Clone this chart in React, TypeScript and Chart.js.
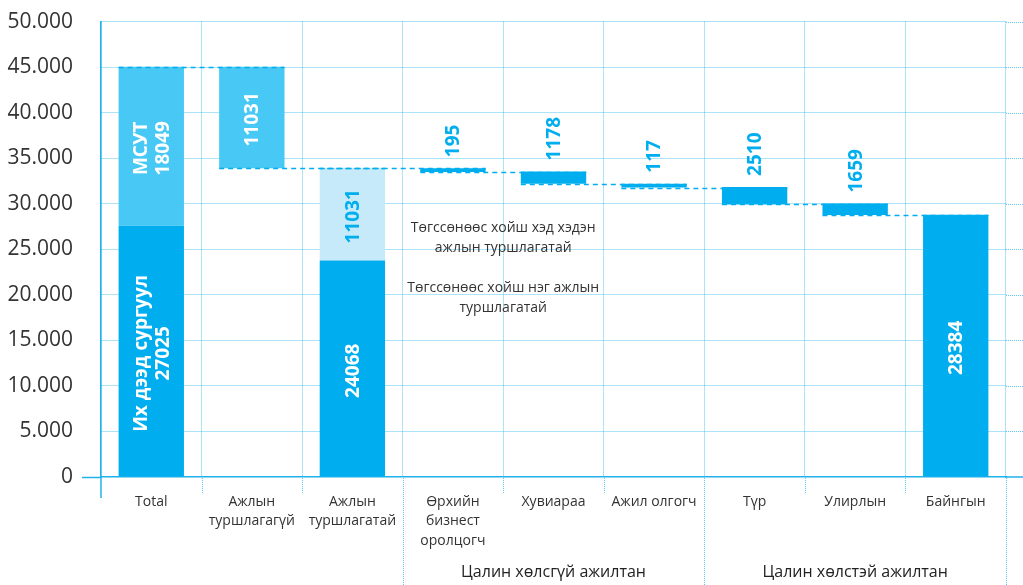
import React, { useEffect, useRef } from 'react';
import { Chart, registerables } from 'chart.js';

Chart.register(...registerables);

// ---------- data ----------
const categories: (string | string[])[] = [
  'Total',
  ['Ажлын', 'туршлагагүй'],
  ['Ажлын', 'туршлагатай'],
  ['Өрхийн', 'бизнест', 'оролцогч'],
  'Хувиараа',
  'Ажил олгогч',
  'Түр',
  'Улирлын',
  'Байнгын',
];

type Range = [number, number] | null;

// floating bar ranges [from, to]
const darkRanges: Range[] = [
  [0, 27576],
  null,
  [0, 23772],
  [33480, 33910],
  [32207, 33554],
  [31772, 32207],
  [29913, 31848],
  [28760, 30020],
  [0, 28800],
];
const midRanges: Range[] = [[27576, 45050], [33910, 45050], null, null, null, null, null, null, null];
const lightRanges: Range[] = [null, null, [23772, 33930], null, null, null, null, null, null];

const darkLabels: (string[] | null)[] = [
  ['Их дээд сургуул', '27025'],
  null,
  ['24068'],
  ['195'],
  ['1178'],
  ['117'],
  ['2510'],
  ['1659'],
  ['28384'],
];
const midLabels: (string[] | null)[] = [['МСУТ', '18049'], ['11031'], null, null, null, null, null, null, null];
const lightLabels: (string[] | null)[] = [null, null, ['11031'], null, null, null, null, null, null];

// dashed connector levels between bar i and bar i+1
const connectorLevels = [45050, 33910, 33910, 33480, 32207, 31772, 29930, 28780];

const yTicks = [0, 5000, 10000, 15000, 20000, 25000, 30000, 35000, 40000, 45000, 50000];

const groupNames = ['Цалин хөлсгүй ажилтан', 'Цалин хөлстэй ажилтан'];
const groupSpans = [
  [3, 5],
  [6, 8],
];

const noteLines = [
  ['Төгссөнөөс хойш хэд хэдэн', 'ажлын туршлагатай'],
  ['Төгссөнөөс хойш нэг ажлын', 'туршлагатай'],
];
const noteAnchors = [
  { x: 3.5, y: 26230 },
  { x: 3.5, y: 19640 },
];

// ---------- style ----------
const DARK = '#00aeef';
const MID = '#47c8f5';
const LIGHT = '#c6eaf9';
const GRID = 'rgba(0, 170, 235, 0.65)';
const AXIS = '#1fb1ec';
const TEXT = '#333333';
const FONT = '"Open Sans", "Noto Sans", sans-serif';
const BAR_PCT = 0.65;

const fmt = (v: number) => {
  const s = Math.round(v).toString();
  return s.replace(/\B(?=(\d{3})+(?!\d))/g, '.');
};

const overlayPlugin = {
  id: 'overlay',
  afterDatasetsDraw(chart: any) {
    const { ctx } = chart;
    const x = chart.scales.x;
    const y = chart.scales.y;
    const step = x.getPixelForValue(1) - x.getPixelForValue(0);
    const half = (step * BAR_PCT) / 2;

    // connectors
    ctx.save();
    ctx.strokeStyle = DARK;
    ctx.lineWidth = 1.3;
    ctx.setLineDash([5, 4]);
    connectorLevels.forEach((lv, i) => {
      const py = Math.round(y.getPixelForValue(lv)) + 0.5;
      ctx.beginPath();
      ctx.moveTo(x.getPixelForValue(i) - half, py);
      ctx.lineTo(x.getPixelForValue(i + 1) + half, py);
      ctx.stroke();
    });
    ctx.restore();

    // bar labels
    const sets: [Range[], (string[] | null)[], string][] = [
      [darkRanges, darkLabels, '#ffffff'],
      [midRanges, midLabels, '#ffffff'],
      [lightRanges, lightLabels, DARK],
    ];
    ctx.save();
    ctx.font = `bold 19px ${FONT}`;
    const lh = 22;
    sets.forEach(([ranges, labels, inColor]) => {
      ranges.forEach((r, i) => {
        const lines = labels[i];
        if (!r || !lines) return;
        const cx = x.getPixelForValue(i);
        const top = y.getPixelForValue(Math.max(r[0], r[1]));
        const bottom = y.getPixelForValue(Math.min(r[0], r[1]));
        ctx.save();
        if (bottom - top >= 30) {
          ctx.translate(cx, (top + bottom) / 2 + 2);
          ctx.rotate(-Math.PI / 2);
          ctx.fillStyle = inColor;
          ctx.textAlign = 'center';
          ctx.textBaseline = 'middle';
          lines.forEach((t, k) => {
            ctx.fillText(t, 0, (k - (lines.length - 1) / 2) * lh + 1);
          });
        } else {
          ctx.translate(cx, top - 11);
          ctx.rotate(-Math.PI / 2);
          ctx.fillStyle = DARK;
          ctx.textAlign = 'left';
          ctx.textBaseline = 'middle';
          lines.forEach((t, k) => {
            ctx.fillText(t, 0, (k - (lines.length - 1) / 2) * lh + 1);
          });
        }
        ctx.restore();
      });
    });
    ctx.restore();
  },
  afterDraw(chart: any) {
    const { ctx, chartArea, width, height } = chart;
    const x = chart.scales.x;
    const y = chart.scales.y;
    const bottom = chartArea.bottom;

    ctx.save();
    // dotted tick extensions below the axis
    ctx.strokeStyle = GRID;
    ctx.lineWidth = 1;
    ctx.setLineDash([1, 1]);
    const groupBounds = new Set<number>();
    groupSpans.forEach(([a, b]) => {
      groupBounds.add(a - 0.5);
      groupBounds.add(b + 0.5);
    });
    for (let k = 1; k <= categories.length; k++) {
      const v = k - 0.5;
      const px = Math.round(x.getPixelForValue(v)) + 0.5;
      ctx.beginPath();
      ctx.moveTo(px, bottom + 1);
      ctx.lineTo(px, groupBounds.has(v) ? height : bottom + 17);
      ctx.stroke();
    }
    // gridline extensions to the right edge
    yTicks.forEach((t) => {
      if (t === 0) return;
      const py = Math.round(y.getPixelForValue(t)) + 0.5;
      ctx.beginPath();
      ctx.moveTo(chartArea.right, py);
      ctx.lineTo(width, py);
      ctx.stroke();
    });
    ctx.setLineDash([]);
    ctx.strokeStyle = AXIS;
    ctx.lineWidth = 1.5;
    // zero line to the right edge
    const py0 = y.getPixelForValue(0);
    ctx.beginPath();
    ctx.moveTo(chartArea.right - 1, py0);
    ctx.lineTo(width, py0);
    ctx.stroke();
    // y axis extension below
    ctx.beginPath();
    ctx.moveTo(chartArea.left, bottom);
    ctx.lineTo(chartArea.left, bottom + 21);
    ctx.stroke();

    // group labels
    ctx.fillStyle = '#222222';
    ctx.font = `16px ${FONT}`;
    ctx.textAlign = 'center';
    ctx.textBaseline = 'middle';
    groupSpans.forEach(([a, b], i) => {
      const cx = (x.getPixelForValue(a - 0.5) + x.getPixelForValue(b + 0.5)) / 2;
      ctx.fillText(groupNames[i], cx, 572);
    });

    // notes
    ctx.fillStyle = TEXT;
    ctx.font = `14px ${FONT}`;
    noteLines.forEach((lines, i) => {
      const cx = x.getPixelForValue(noteAnchors[i].x);
      const cy = y.getPixelForValue(noteAnchors[i].y);
      lines.forEach((t, k) => {
        ctx.fillText(t, cx, cy + (k - (lines.length - 1) / 2) * 19.5);
      });
    });
    ctx.restore();
  },
};

export default function App() {
  const ref = useRef<HTMLCanvasElement | null>(null);

  useEffect(() => {
    if (!ref.current) return;
    const chart = new Chart(ref.current, {
      type: 'bar',
      data: {
        labels: categories,
        datasets: [
          { label: 'dark', data: darkRanges as any, backgroundColor: DARK, borderWidth: 0 },
          { label: 'mid', data: midRanges as any, backgroundColor: MID, borderWidth: 0 },
          { label: 'light', data: lightRanges as any, backgroundColor: LIGHT, borderWidth: 0 },
        ],
      },
      options: {
        responsive: false,
        animation: false,
        devicePixelRatio: 1,
        layout: { padding: { top: 18, right: 17, left: 0, bottom: 0 } },
        datasets: { bar: { barPercentage: BAR_PCT, categoryPercentage: 1 } },
        plugins: {
          legend: { display: false },
          tooltip: { enabled: false },
        },
        scales: {
          x: {
            stacked: true,
            offset: true,
            grid: {
              offset: true,
              color: GRID,
              lineWidth: 1,
              drawTicks: false,
            },
            border: { display: true, color: AXIS, width: 1.5, dash: [1, 1] },
            ticks: {
              color: TEXT,
              font: { family: FONT, size: 14, lineHeight: 1.4 },
              padding: 15,
              autoSkip: false,
              maxRotation: 0,
              minRotation: 0,
            },
            afterFit: (s: any) => {
              s.height = 108;
            },
          },
          y: {
            min: 0,
            max: 50000,
            afterBuildTicks: (s: any) => {
              s.ticks = yTicks.map((v) => ({ value: v }));
            },
            grid: {
              color: (c: any) => (c.tick && c.tick.value === 0 ? 'rgba(0,0,0,0)' : GRID),
              lineWidth: 1,
              drawTicks: true,
              tickLength: 19,
              tickColor: (c: any) => (c.tick && c.tick.value === 0 ? AXIS : 'rgba(0,0,0,0)'),
              tickWidth: 1.5,
            },
            border: { display: true, color: AXIS, width: 1.5, dash: [1, 1] },
            ticks: {
              color: TEXT,
              font: { family: FONT, size: 21 },
              padding: 9,
              callback: (v: any) => fmt(Number(v)),
            },
            afterFit: (s: any) => {
              s.width = 101;
            },
          },
        },
      },
      plugins: [overlayPlugin],
    });
    return () => chart.destroy();
  }, []);

  return (
    <div style={{ position: 'absolute', left: 0, top: 0, width: 1023, height: 585, background: '#fff' }}>
      <canvas ref={ref} width={1023} height={585} style={{ width: 1023, height: 585, display: 'block' }} />
    </div>
  );
}
